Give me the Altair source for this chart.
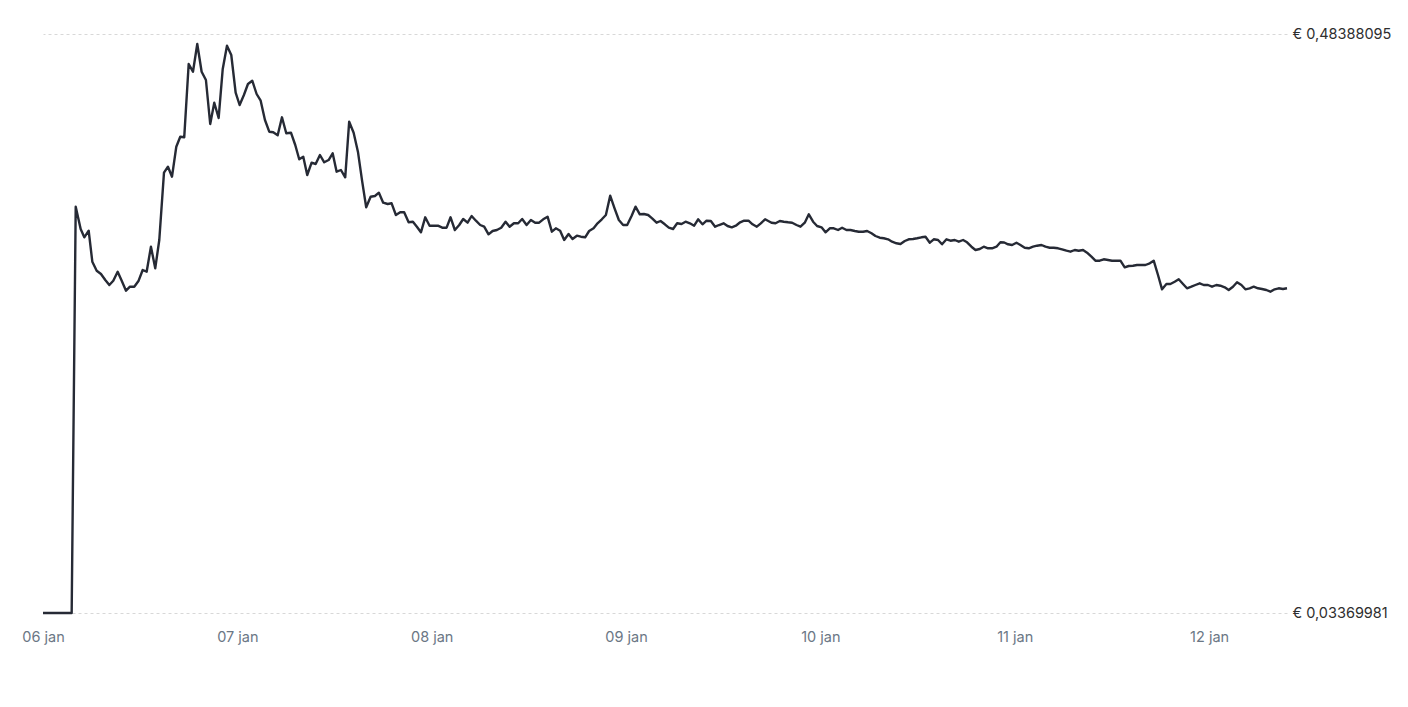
import altair as alt
import pandas as pd

# hours since 06 jan 00:00
hours = [
    0.00, 3.54, 4.04, 4.65, 5.10, 5.64, 6.09, 6.63, 7.16, 7.69, 8.19, 8.68, 9.22, 9.72,
    10.25, 10.74, 11.27, 11.81, 12.31, 12.80, 13.33, 13.86, 14.36, 14.94, 15.43, 15.93,
    16.46, 16.95, 17.44, 17.99, 18.52, 19.05, 19.59, 20.12, 20.65, 21.15, 21.69, 22.19,
    22.72, 23.25, 23.79, 24.28, 24.81, 25.31, 25.84, 26.38, 26.88, 27.41, 27.94, 28.43,
    28.98, 29.51, 30.04, 30.62,
    31.15, 31.64, 32.14, 32.63, 33.17, 33.67, 34.20, 34.73, 35.27, 35.77, 36.26, 36.79,
    37.32, 37.81, 38.36, 38.89, 39.42, 39.91, 40.46, 40.99, 41.48, 42.01, 42.56, 43.05,
    43.58, 44.11, 44.60, 45.15, 45.68, 46.17, 46.67, 47.20, 47.74, 48.23, 48.77, 49.30,
    49.84, 50.33, 50.86, 51.40, 51.89, 52.43, 52.93, 53.46, 53.99, 54.48, 55.02, 55.52,
    56.05, 56.58, 57.12, 57.62, 58.15, 58.68, 59.17, 59.72,
    60.25, 60.78, 61.27, 61.77, 62.31, 62.84, 63.33, 63.86, 64.36, 64.90, 65.39, 65.93,
    66.42, 66.95, 67.44, 67.99, 68.48, 69.01, 69.51, 70.04, 70.58, 71.11, 71.64, 72.14,
    72.68, 73.17, 73.70, 74.20, 74.73, 75.22, 75.77, 76.26, 76.79, 77.28, 77.81, 78.31,
    78.85, 79.35, 79.88, 80.41, 80.90, 81.44, 81.94, 82.47, 83.00, 83.49, 84.04, 84.53,
    85.06, 85.56, 86.09, 86.58, 87.12, 87.62, 88.15, 88.64, 89.17,
    89.96, 90.46, 90.99, 91.48, 92.01, 92.51, 93.05, 93.54, 94.07, 94.57, 95.10, 95.59,
    96.14, 96.63, 97.16, 97.65, 98.18, 98.68, 99.22, 99.71, 100.25, 100.74, 101.27, 101.77,
    102.31, 102.80, 103.33, 103.83, 104.36, 104.85, 105.39, 105.89, 106.42, 106.91, 107.44,
    107.94, 108.48, 108.98, 109.51, 110.00, 110.53, 111.02, 111.57, 112.06, 112.59, 113.09,
    113.62, 114.11, 114.65, 115.15, 115.68, 116.17, 116.70, 117.20, 117.74, 118.23,
    118.70, 119.17, 119.67, 120.21, 120.70, 121.23, 121.73, 122.26, 122.75, 123.30, 123.79,
    124.32, 124.81, 125.35, 125.84, 126.38, 126.88, 127.41, 127.90, 128.43, 128.93, 129.47,
    129.96, 130.49, 130.99, 131.52, 132.01, 132.56, 133.05, 133.58, 134.07, 134.60, 135.10,
    135.64, 136.14, 136.67, 137.16, 137.69, 138.19, 138.73, 139.22, 139.75, 140.25, 140.78,
    141.27, 141.81, 142.31, 142.84, 143.33, 143.86, 144.36, 144.90, 145.39, 145.93, 146.42,
    146.95, 147.45, 147.99, 148.48, 149.01, 149.51, 150.04, 150.53, 151.07, 151.57, 152.10,
    152.59, 153.12, 153.62,
]

# price in euro
prices = [
    0.03370, 0.03370, 0.34960, 0.33226, 0.32581, 0.33094, 0.30684, 0.29984, 0.29728, 0.29261,
    0.28872, 0.29207, 0.29906, 0.29207, 0.28429, 0.28740, 0.28740, 0.29207, 0.30039, 0.29906,
    0.31850, 0.30171, 0.32371, 0.37604, 0.38070, 0.37293, 0.39625, 0.40403, 0.40356, 0.46056,
    0.45457, 0.47610, 0.45457, 0.44811, 0.41390, 0.43046, 0.41857, 0.45643, 0.47478, 0.46755,
    0.43824, 0.42868, 0.43645, 0.44500, 0.44757, 0.43723, 0.43202, 0.41701, 0.40792, 0.40745,
    0.40512, 0.41911, 0.40667, 0.40714,
    0.39758, 0.38646, 0.38848, 0.37425, 0.38381, 0.38280, 0.38980, 0.38412, 0.38591, 0.39112,
    0.37682, 0.37814, 0.37246, 0.41569, 0.40714, 0.39237, 0.36904, 0.34914, 0.35738, 0.35792,
    0.36049, 0.35271, 0.35170, 0.35225, 0.34315, 0.34525, 0.34525, 0.33747, 0.33794, 0.33405,
    0.32970, 0.34136, 0.33483, 0.33483, 0.33483, 0.33328, 0.33328, 0.34136, 0.33149, 0.33537,
    0.34004, 0.33716, 0.34237, 0.33872, 0.33537, 0.33405, 0.32814, 0.33071, 0.33149, 0.33328,
    0.33794, 0.33405, 0.33670, 0.33670, 0.34004, 0.33537,
    0.33926, 0.33716, 0.33716, 0.33981, 0.34183, 0.33017, 0.33281, 0.33094, 0.32371, 0.32838,
    0.32449, 0.32706, 0.32628, 0.32581, 0.33071, 0.33281, 0.33670, 0.33981, 0.34315, 0.35816,
    0.34836, 0.33926, 0.33537, 0.33537, 0.34237, 0.34960, 0.34369, 0.34393, 0.34315, 0.34058,
    0.33716, 0.33848, 0.33592, 0.33328, 0.33226, 0.33670, 0.33615, 0.33794, 0.33670, 0.33483,
    0.33981, 0.33592, 0.33872, 0.33848, 0.33405, 0.33537, 0.33670, 0.33460, 0.33359, 0.33483,
    0.33747, 0.33872, 0.33872, 0.33592, 0.33405, 0.33670, 0.33981,
    0.33716, 0.33670, 0.33848, 0.33794, 0.33747, 0.33716, 0.33537, 0.33405, 0.33716, 0.34369,
    0.33794, 0.33460, 0.33359, 0.32970, 0.33281, 0.33281, 0.33149, 0.33328, 0.33149, 0.33149,
    0.33071, 0.33017, 0.33017, 0.33071, 0.32892, 0.32682, 0.32550, 0.32504, 0.32426, 0.32239,
    0.32115, 0.32060, 0.32293, 0.32426, 0.32449, 0.32504, 0.32581, 0.32628, 0.32161, 0.32426,
    0.32371, 0.32037, 0.32426, 0.32317, 0.32371, 0.32239, 0.32371, 0.32193, 0.31850, 0.31594,
    0.31671, 0.31850, 0.31726, 0.31726, 0.31850, 0.32193,
    0.32177, 0.32037, 0.31982, 0.32161, 0.31982, 0.31772, 0.31726, 0.31850, 0.31928, 0.31982,
    0.31850, 0.31772, 0.31772, 0.31726, 0.31648, 0.31539, 0.31461, 0.31594, 0.31539, 0.31594,
    0.31384, 0.31073, 0.30762, 0.30762, 0.30871, 0.30816, 0.30762, 0.30762, 0.30762, 0.30249,
    0.30350, 0.30373, 0.30427, 0.30427, 0.30427, 0.30559, 0.30762, 0.29650, 0.28538, 0.28950,
    0.28950, 0.29129, 0.29316, 0.28950, 0.28616, 0.28740, 0.28872, 0.29004, 0.28872, 0.28872,
    0.28740, 0.28872, 0.28818, 0.28694, 0.28484, 0.28740, 0.29082, 0.28872, 0.28538, 0.28616,
    0.28740, 0.28616, 0.28561, 0.28484, 0.28351, 0.28538, 0.28616, 0.28561, 0.28616,
]

day_hours = [0, 24, 48, 72, 96, 120, 144]
day_labels = ["06 jan", "07 jan", "08 jan", "09 jan", "10 jan", "11 jan", "12 jan"]
y_min = 0.03369981
y_max = 0.48388095

df = pd.DataFrame({"uur": hours, "prijs": prices})

label_expr = "[" + ",".join(f"'{d}'" for d in day_labels) + "][round(datum.value / 24)]"
y_label_expr = "'€ ' + replace(format(datum.value, '.8f'), '.', ',')"

chart = (
    alt.Chart(df)
    .mark_line(color="#262a35", strokeWidth=2.4, strokeJoin="round")
    .encode(
        x=alt.X(
            "uur:Q",
            scale=alt.Scale(domain=[hours[0], hours[-1]], nice=False, zero=False),
            axis=alt.Axis(
                values=day_hours,
                labelExpr=label_expr,
                title=None,
                grid=False,
                ticks=False,
                domain=False,
                labelFlush=False,
                labelOverlap=False,
                labelPadding=17,
                labelColor="#6b7785",
                labelFont="Inter",
                labelFontSize=14.5,
            ),
        ),
        y=alt.Y(
            "prijs:Q",
            scale=alt.Scale(domain=[y_min, y_max], nice=False, zero=False),
            axis=alt.Axis(
                orient="right",
                values=[y_min, y_max],
                labelExpr=y_label_expr,
                title=None,
                grid=True,
                gridColor="#d8d8d8",
                gridDash=[3, 3],
                gridWidth=1,
                ticks=False,
                domain=False,
                labelOverlap=False,
                labelFlush=False,
                labelPadding=5,
                labelColor="#2e2e2e",
                labelFont="Inter",
                labelFontSize=14.5,
                labelBaseline="middle",
            ),
        ),
    )
    .properties(
        width=1244,
        height=579,
        autosize=alt.AutoSizeParams(type="none"),
        padding={"left": 35, "top": 26, "right": 110, "bottom": 50},
        background="white",
    )
    .configure_view(stroke=None)
)

chart.save("out.html", embed_options={"renderer": "svg", "actions": False})
